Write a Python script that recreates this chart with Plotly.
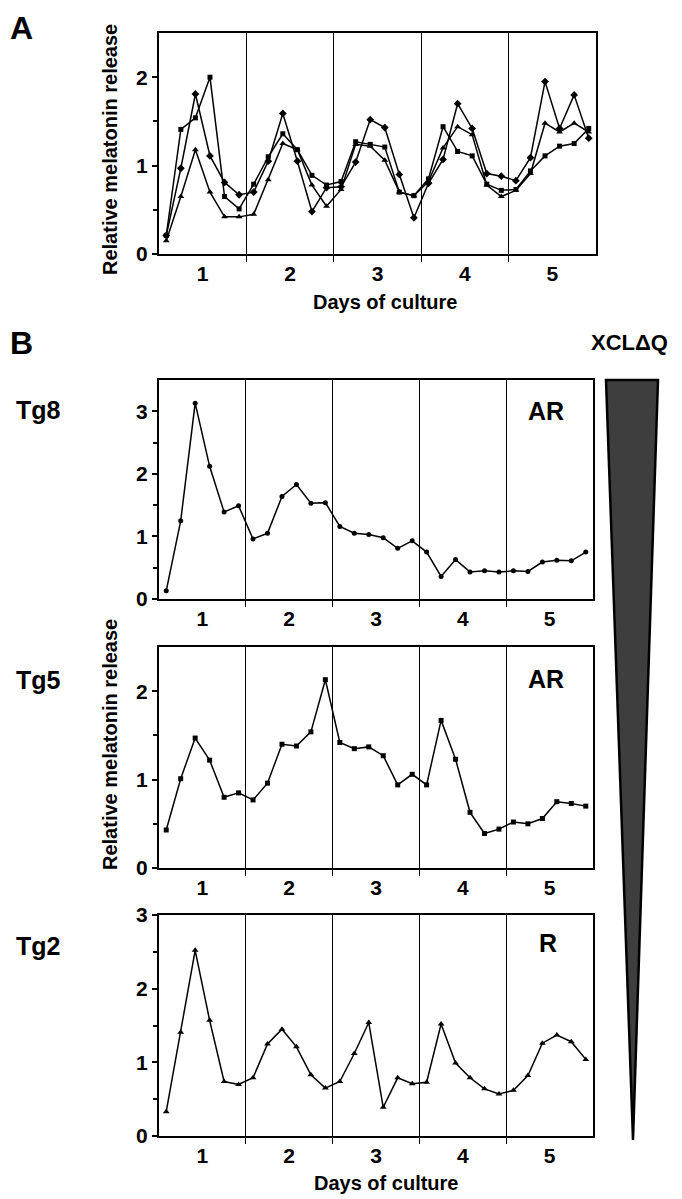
import plotly.graph_objects as go

PAGE_W, PAGE_H = 682, 1199
BODY = 8  # default page margin before the plot div
W, H = PAGE_W - BODY, PAGE_H - BODY

# sampling: 6 samples per day, every 4 h, starting 2 h into day 1
sample_hours = [2, 6, 10, 14, 18, 22, 26, 30, 34, 38, 42, 46, 50, 54, 58, 62, 66, 70,
                74, 78, 82, 86, 90, 94, 98, 102, 106, 110, 114, 118]
days = [0.5 + h / 24 for h in sample_hours]

day_labels = ["1", "2", "3", "4", "5"]
day_boundaries = [1.5, 2.5, 3.5, 4.5]

# Panel A: three wild-type cultures
A_sq = [0.21, 1.41, 1.54, 2.00, 0.65, 0.51, 0.79, 1.10, 1.36, 1.18, 0.89, 0.78,
        0.82, 1.27, 1.24, 1.21, 0.70, 0.66, 0.85, 1.44, 1.16, 1.11, 0.79, 0.72,
        0.73, 0.94, 1.11, 1.22, 1.25, 1.42]
A_di = [0.21, 0.97, 1.81, 1.11, 0.81, 0.67, 0.70, 1.05, 1.59, 1.05, 0.48, 0.75,
        0.76, 1.04, 1.52, 1.43, 0.90, 0.41, 0.80, 1.07, 1.70, 1.42, 0.91, 0.88,
        0.83, 1.09, 1.95, 1.42, 1.80, 1.31]
A_tr = [0.15, 0.65, 1.18, 0.70, 0.42, 0.42, 0.45, 0.84, 1.25, 1.18, 0.78, 0.54,
        0.73, 1.24, 1.22, 1.06, 0.70, 0.66, 0.82, 1.20, 1.44, 1.35, 0.78, 0.65,
        0.72, 0.91, 1.48, 1.38, 1.48, 1.38]

# Panel B: transgenic lines
tg8 = [0.13, 1.25, 3.13, 2.12, 1.39, 1.49, 0.96, 1.05, 1.64, 1.83, 1.53, 1.54,
       1.16, 1.05, 1.03, 0.98, 0.81, 0.93, 0.75, 0.36, 0.63, 0.43, 0.45, 0.43,
       0.45, 0.44, 0.59, 0.62, 0.61, 0.75]
tg5 = [0.43, 1.01, 1.47, 1.22, 0.80, 0.85, 0.77, 0.96, 1.40, 1.38, 1.54, 2.13,
       1.42, 1.35, 1.37, 1.27, 0.94, 1.06, 0.94, 1.67, 1.23, 0.63, 0.39, 0.44,
       0.52, 0.50, 0.56, 0.75, 0.73, 0.70]
tg2 = [0.33, 1.41, 2.52, 1.57, 0.74, 0.70, 0.79, 1.25, 1.45, 1.21, 0.83, 0.65,
       0.74, 1.12, 1.54, 0.39, 0.79, 0.71, 0.73, 1.52, 0.99, 0.79, 0.64, 0.57,
       0.62, 0.82, 1.26, 1.37, 1.28, 1.04]

FONT = "Liberation Sans, Arial, sans-serif"

def px(x):
    return (x - BODY) / W

def py(y):
    return 1 - (y - BODY) / H

# panel geometry in page pixels (left, right, top, bottom) and y ranges
panels = [
    dict(l=159, r=596, t=33, b=254, ymax=2.5, ymaj=[0, 1, 2]),
    dict(l=159, r=593, t=380, b=599, ymax=3.5, ymaj=[0, 1, 2, 3]),
    dict(l=159, r=593, t=647, b=868, ymax=2.5, ymaj=[0, 1, 2]),
    dict(l=159, r=593, t=915, b=1136, ymax=3.0, ymaj=[0, 1, 2, 3]),
]

fig = go.Figure()

def add(series, k, symbol, size=5):
    fig.add_trace(go.Scatter(
        x=days, y=series, mode="lines+markers",
        xaxis="x" if k == 0 else f"x{k+1}", yaxis="y" if k == 0 else f"y{k+1}",
        line=dict(color="black", width=1.5),
        marker=dict(symbol=symbol, size=size, color="black"),
        showlegend=False, hoverinfo="skip"))

add(A_sq, 0, "square", 5)
add(A_di, 0, "diamond", 6)
add(A_tr, 0, "triangle-up", 6)
add(tg8, 1, "circle", 5)
add(tg5, 2, "square", 5)
add(tg2, 3, "triangle-up", 6)

layout = dict(width=W, height=H, margin=dict(l=0, r=0, t=0, b=0, pad=0), autosize=False,
              paper_bgcolor="white", plot_bgcolor="white", showlegend=False)

for k, p in enumerate(panels):
    xs = "xaxis" if k == 0 else f"xaxis{k+1}"
    ys = "yaxis" if k == 0 else f"yaxis{k+1}"
    yid = "y" if k == 0 else f"y{k+1}"
    xid = "x" if k == 0 else f"x{k+1}"
    yminor = [v + 0.5 for v in range(int(p["ymax"])) if v + 0.5 < p["ymax"]]
    layout[xs] = dict(
        domain=[px(p["l"]), px(p["r"])], anchor=yid, range=[0.5, 5.5],
        automargin=False,
        tickmode="array", tickvals=[1, 2, 3, 4, 5], ticktext=day_labels,
        ticks="", showgrid=False, zeroline=False,
        showline=True, mirror=True, linecolor="black", linewidth=2,
        tickfont=dict(family=FONT, size=21, color="black", weight="bold"),
        minor=dict(tickmode="array", tickvals=day_boundaries, ticks="outside",
                   ticklen=6, tickcolor="black", tickwidth=1,
                   showgrid=True, gridcolor="black", gridwidth=1))
    layout[ys] = dict(
        domain=[py(p["b"]), py(p["t"])], anchor=xid, range=[0, p["ymax"]],
        automargin=False,
        tickmode="array", tickvals=p["ymaj"], ticks="outside", ticklen=5,
        tickcolor="black", tickwidth=1.5, showgrid=False, zeroline=False,
        showline=True, mirror=True, linecolor="black", linewidth=2,
        tickfont=dict(family=FONT, size=21, color="black", weight="bold"),
        minor=dict(tickmode="array", tickvals=yminor, ticks="outside", ticklen=4,
                   tickcolor="black", tickwidth=1.5, showgrid=False))

fig.update_layout(**layout)

def txt(x, y, s, size, xanchor="center", angle=0, yanchor="middle"):
    fig.add_annotation(x=px(x), y=py(y), xref="paper", yref="paper", text=s,
                       showarrow=False, xanchor=xanchor, yanchor=yanchor,
                       textangle=angle, borderpad=0,
                       font=dict(family=FONT, size=size, color="black", weight="bold"))

txt(9, 9, "A", 32, "left", yanchor="top")
txt(9, 343, "B", 32, "left")
txt(110, 150, "Relative melatonin release", 20, angle=-90)
txt(110, 745, "Relative melatonin release", 20, angle=-90)
txt(385, 302, "Days of culture", 20)
txt(386, 1183, "Days of culture", 20)
txt(15, 410, "Tg8", 25, "left")
txt(15, 680, "Tg5", 25, "left")
txt(15, 946, "Tg2", 25, "left")
txt(546, 411, "AR", 25)
txt(546, 679, "AR", 25)
txt(548, 943, "R", 25)
txt(629, 342, "XCL\u0394Q", 22)

# decreasing-dosage wedge
fig.add_shape(type="path", xref="paper", yref="paper",
              path=f"M {px(606)} {py(380)} L {px(658)} {py(380)} L {px(633)} {py(1140)} Z",
              fillcolor="#3e3e3e", line=dict(color="black", width=2.5))

fig.write_html("out.html")
